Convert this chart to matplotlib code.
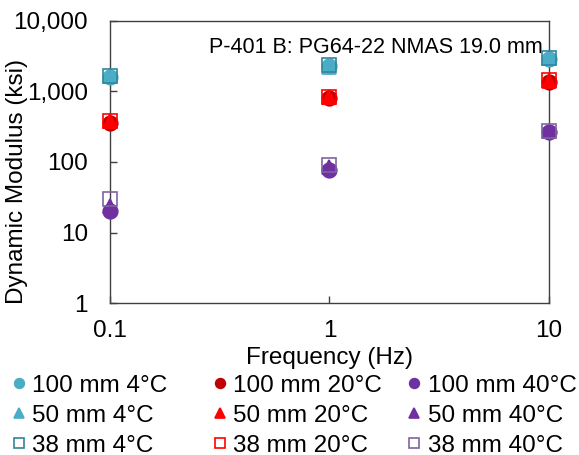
import matplotlib.pyplot as plt
from matplotlib.lines import Line2D
from matplotlib.ticker import FixedLocator, FuncFormatter, NullLocator

plt.rcParams['font.family'] = ['Liberation Sans', 'DejaVu Sans']

freq = [0.1, 1, 10]

# dynamic modulus (ksi)
e_100_4 = [1600, 2300, 2900]
e_50_4 = [1650, 2250, 2950]
e_38_4 = [1650, 2380, 2980]
e_100_20 = [360, 800, 1350]
e_50_20 = [380, 830, 1420]
e_38_20 = [380, 836, 1455]
e_100_40 = [20, 77, 270]
e_50_40 = [24, 84, 272]
e_38_40 = [30, 90, 275]

labels = [["100 mm 4°C", "50 mm 4°C", "38 mm 4°C"],
          ["100 mm 20°C", "50 mm 20°C", "38 mm 20°C"],
          ["100 mm 40°C", "50 mm 40°C", "38 mm 40°C"]]

blue = "#4BACC6"
blue_edge = "#31859C"
dred = "#C00000"
red = "#FF0000"
purple = "#7030A0"
purple_edge = "#8064A2"

series = [
    # (data, marker, face, edge)
    [(e_100_4, 'o', blue, blue), (e_50_4, '^', blue, blue), (e_38_4, 's', 'none', blue_edge)],
    [(e_100_20, 'o', dred, dred), (e_50_20, '^', red, red), (e_38_20, 's', 'none', red)],
    [(e_100_40, 'o', purple, purple), (e_50_40, '^', purple, purple), (e_38_40, 's', 'none', purple_edge)],
]

fig = plt.figure(figsize=(5.79, 4.55), dpi=100)
ax = fig.add_axes([0.19, 0.334, 0.758, 0.62])

for k in range(3):  # circles, then triangles, then squares on top
    for col in series:
        data, m, fc, ec = col[k]
        ax.plot(freq, data, linestyle='none', marker=m, markersize=10.5,
                markerfacecolor=fc, markeredgecolor=ec, markeredgewidth=1.2,
                clip_on=False, zorder=3 + k)

ax.set_xscale('log')
ax.set_yscale('log')
ax.set_xlim(0.1, 10)
ax.set_ylim(1, 10000)
ax.xaxis.set_major_locator(FixedLocator([0.1, 1, 10]))
ax.xaxis.set_minor_locator(NullLocator())
ax.yaxis.set_major_locator(FixedLocator([1, 10, 100, 1000, 10000]))
ax.yaxis.set_minor_locator(NullLocator())
ax.xaxis.set_major_formatter(FuncFormatter(lambda v, p: f"{v:g}"))
ax.yaxis.set_major_formatter(FuncFormatter(lambda v, p: f"{v:,.0f}"))
ax.tick_params(direction='in', length=5, width=1, labelsize=17.5, color='#404040')
ax.tick_params(axis='y', pad=16)
ax.tick_params(axis='x', pad=12)
for s in ax.spines.values():
    s.set_color('#404040')
    s.set_linewidth(1)

ax.set_xlabel("Frequency (Hz)", fontsize=17.5, labelpad=4)
ax.set_ylabel("Dynamic Modulus (ksi)", fontsize=17.5)
ax.yaxis.set_label_coords(-0.186, 0.43)
ax.text(0.985, 0.905, "P-401 B: PG64-22 NMAS 19.0 mm", transform=ax.transAxes,
        ha='right', va='center', fontsize=15.5)

xs = [0.018, 0.365, 0.701]
for i in range(3):
    handles = []
    for j in range(3):
        data, m, fc, ec = series[i][j]
        handles.append(Line2D([], [], linestyle='none', marker=m, markersize=7,
                              markerfacecolor=fc, markeredgecolor=ec, markeredgewidth=1.2))
    fig.legend(handles, labels[i], loc='upper left', bbox_to_anchor=(xs[i], 0.176),
               bbox_transform=fig.transFigure, frameon=False, fontsize=17.5,
               handlelength=0.7, handletextpad=0.2, labelspacing=0.32,
               borderaxespad=0, borderpad=0)

fig.savefig("out.png", dpi=100)
